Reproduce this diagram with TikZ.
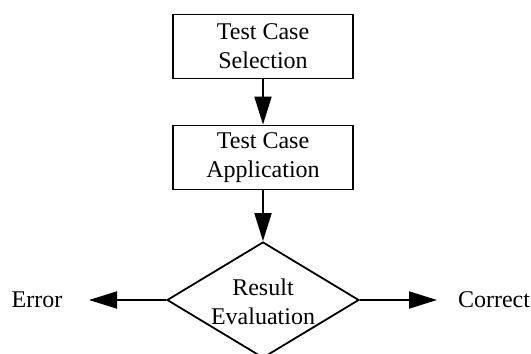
\documentclass[tikz,border=0pt]{standalone}
\usepackage{fontspec}
\setmainfont{Liberation Serif}
\usetikzlibrary{shapes.geometric,arrows.meta}
\begin{document}
\begin{tikzpicture}[x=0.5pt,y=-0.5pt,
  every node/.style={font=\fontsize{12pt}{14.5pt}\selectfont},
  procbox/.style={draw,line width=0.9pt,minimum width=90pt,minimum height=32pt,inner sep=0pt,align=center},
  decision/.style={draw,diamond,line width=0.9pt,minimum width=96pt,minimum height=58pt,inner sep=0pt,aspect=1.66},
  flow/.style={line width=0.9pt,-{Triangle[length=14pt,width=8.5pt]}}]
  \useasboundingbox (0,0) rectangle (531,354);
  \node[procbox] (sel) at (263,46.5) {Test Case\\Selection};
  \node[procbox] (app) at (263,157.5) {Test Case\\Application};
  \node[decision] (eval) at (263,300) {};
  \node[align=center] (evaltext) at (263,302) {Result\\Evaluation};
  \node (err) at (37,300) {Error};
  \node (ok) at (494,300) {Correct};
  \coordinate (errtip) at (89,300);
  \coordinate (oktip) at (437,300);
  \draw[flow] (sel) -- (app);
  \draw[flow] (app) -- (eval.north);
  \draw[flow] (eval.west) -- (errtip);
  \draw[flow] (eval.east) -- (oktip);
\end{tikzpicture}
\end{document}
